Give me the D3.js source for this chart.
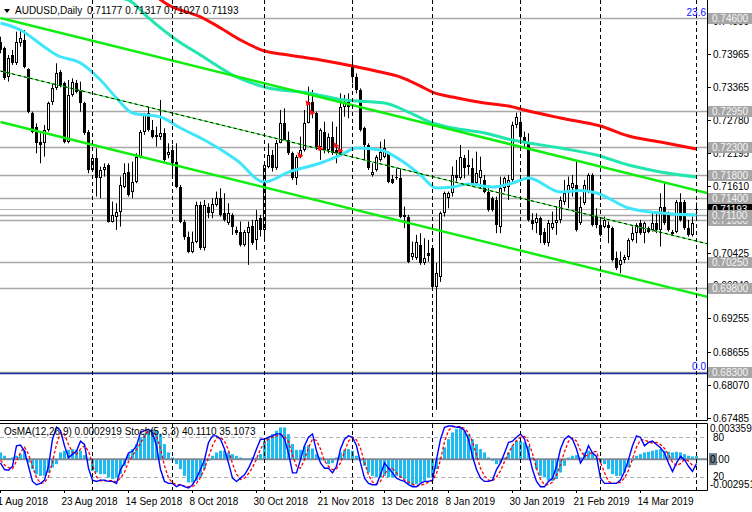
<!DOCTYPE html>
<html><head><meta charset="utf-8">
<script src="https://cdn.jsdelivr.net/npm/d3@7/dist/d3.min.js"></script>
<style>body{margin:0;background:#fff}svg{display:block}text{font-family:"Liberation Sans",Arial,sans-serif;font-size:10px}</style>
</head><body><svg id="c" width="752" height="512"></svg>
<script>
// ---------------- DATA ----------------
const symbolTitle = "AUDUSD,Daily";
const lastOHLC = ["0.71177", "0.71317", "0.71027", "0.71193"];
const oscTitle = "OsMA(12,26,9) 0.0002919  Stoch(5,3,3) 40.1110 35.1073";
const dateLabels = ["1 Aug 2018","23 Aug 2018","14 Sep 2018","8 Oct 2018","30 Oct 2018","21 Nov 2018","13 Dec 2018","8 Jan 2019","30 Jan 2019","21 Feb 2019","14 Mar 2019"];
const dateIdx = [0,16,32,48,64,80,96,112,128,144,160];
const separatorIdx = [23,43,66,88,108,130,150,174];
const priceTicks = [0.74550,0.73965,0.73365,0.72780,0.72195,0.71610,0.71025,0.70425,0.69840,0.69255,0.68655,0.68070,0.67485];
const levelPrices = [0.6830,0.6980,0.7025,0.7100,0.7110,0.7140,0.7180,0.7230,0.7295,0.7460];
const currentPrice = 0.71193;
const fibPrices = [0.7460, 0.6830];
const fibLabels = ["23.6", "0.0"];
const oscTicks = ["0.0033591","80","0.00","20","-0.002951"];

const open = [0.74179,0.74060,0.73556,0.73942,0.73793,0.74149,0.74208,0.73686,0.72904,0.72666,
0.72400,0.72370,0.72607,0.73111,0.73348,0.73645,0.73437,0.72400,0.73230,0.73437,
0.73319,0.73082,0.72578,0.71896,0.72103,0.71747,0.71896,0.71985,0.70977,0.71066,
0.71155,0.71600,0.71866,0.71511,0.71688,0.72133,0.72578,0.72904,0.72607,0.72518,
0.72489,0.72548,0.72163,0.72252,0.72044,0.71600,0.70977,0.70710,0.70443,0.70621,
0.71273,0.70503,0.71244,0.71125,0.71273,0.71392,0.71125,0.70947,0.71096,0.70829,
0.70799,0.70562,0.70770,0.70900,0.70651,0.71036,0.70829,0.71955,0.72163,0.71925,
0.72370,0.72726,0.72430,0.72192,0.71747,0.72133,0.72252,0.72726,0.73111,0.72904,
0.72311,0.72578,0.72252,0.72489,0.72252,0.72192,0.73022,0.73111,0.73764,0.73556,
0.73319,0.72637,0.72341,0.71807,0.71896,0.72074,0.72133,0.72175,0.71730,0.71747,
0.71747,0.71096,0.71066,0.70348,0.70330,0.70562,0.70242,0.70419,0.70508,0.69814,
0.69992,0.71125,0.71392,0.71481,0.71807,0.71747,0.72103,0.71955,0.71925,0.71659,
0.71747,0.71718,0.71511,0.71392,0.71362,0.70888,0.71570,0.71600,0.71718,0.72696,
0.72755,0.72489,0.72400,0.71007,0.70947,0.71036,0.70799,0.70592,0.70858,0.70947,
0.71007,0.71333,0.71481,0.71570,0.71629,0.70947,0.71303,0.71511,0.71807,0.71066,
0.70918,0.70888,0.70918,0.70858,0.70325,0.70206,0.70295,0.70354,0.70651,0.70770,
0.70947,0.70770,0.70858,0.70829,0.70947,0.70829,0.71244,0.71125,0.70758,0.70799,
0.71333,0.71333,0.70858,0.70740,0.71177];
const high = [0.74267,0.74090,0.73942,0.74031,0.74356,0.74386,0.74386,0.73704,0.72933,0.72726,
0.72548,0.72696,0.73111,0.73437,0.73793,0.73675,0.73467,0.73497,0.73526,0.73497,
0.73467,0.73111,0.72607,0.72133,0.72281,0.71955,0.72014,0.72014,0.71333,0.71303,
0.71777,0.72014,0.72014,0.72044,0.72192,0.72607,0.72904,0.73022,0.72785,0.72666,
0.73141,0.72637,0.72370,0.72341,0.72370,0.71629,0.71007,0.70799,0.70799,0.71333,
0.71333,0.71362,0.71303,0.71392,0.71511,0.71570,0.71481,0.71303,0.71125,0.70888,
0.70977,0.70829,0.70977,0.71007,0.71184,0.71096,0.72014,0.72370,0.72252,0.72430,
0.72963,0.72992,0.72578,0.72222,0.72163,0.72489,0.72963,0.73378,0.73319,0.72933,
0.72637,0.72755,0.72548,0.72755,0.72666,0.73259,0.73230,0.73259,0.73942,0.73615,
0.73348,0.72666,0.72370,0.72014,0.72163,0.72400,0.72441,0.72222,0.71807,0.71925,
0.71925,0.71244,0.71096,0.70621,0.70740,0.70770,0.70681,0.70651,0.70562,0.70242,
0.71155,0.71511,0.71511,0.71955,0.72074,0.72341,0.72163,0.72252,0.72103,0.72222,
0.72133,0.71807,0.71629,0.71422,0.71422,0.71777,0.71777,0.71807,0.72755,0.72916,
0.72844,0.72578,0.72548,0.71125,0.71125,0.71066,0.70858,0.71007,0.71155,0.71244,
0.71422,0.71718,0.71777,0.71807,0.72044,0.71422,0.71718,0.71836,0.71836,0.71214,
0.71036,0.71066,0.70977,0.70888,0.70443,0.70443,0.70384,0.70681,0.70888,0.70947,
0.71007,0.70977,0.70888,0.71125,0.71125,0.71481,0.71659,0.71155,0.70829,0.71362,
0.71481,0.71362,0.71007,0.71066,0.71317];
const low = [0.73971,0.73497,0.73467,0.73764,0.73764,0.74090,0.73704,0.72904,0.72548,0.72192,
0.72014,0.72133,0.72578,0.73052,0.73319,0.73366,0.72370,0.72370,0.73200,0.73259,
0.72933,0.72518,0.71836,0.71866,0.71422,0.71392,0.71777,0.70959,0.70959,0.70829,
0.70888,0.71570,0.71422,0.71392,0.71659,0.72103,0.72518,0.72578,0.72459,0.72311,
0.72430,0.72044,0.72103,0.71777,0.71570,0.70947,0.70651,0.70414,0.70414,0.70592,
0.70473,0.70461,0.71036,0.71036,0.71244,0.71066,0.70977,0.70918,0.70740,0.70740,
0.70532,0.70532,0.70206,0.70562,0.70473,0.70710,0.70681,0.71925,0.71866,0.71896,
0.72370,0.72430,0.72163,0.71718,0.71629,0.72103,0.72222,0.72726,0.72815,0.72252,
0.72074,0.72192,0.72192,0.72163,0.72014,0.72163,0.72844,0.72815,0.73437,0.73259,
0.72578,0.72074,0.71896,0.71777,0.71866,0.72044,0.72103,0.71659,0.71647,0.71718,
0.71036,0.70858,0.70236,0.70295,0.70295,0.70206,0.70206,0.70265,0.69761,0.67626,
0.69903,0.71066,0.71214,0.71422,0.71688,0.71718,0.71747,0.71807,0.71600,0.71629,
0.71570,0.71481,0.71155,0.71155,0.70770,0.70770,0.71511,0.71362,0.71688,0.72637,
0.72370,0.72281,0.70977,0.70829,0.70770,0.70592,0.70562,0.70532,0.70829,0.70740,
0.70947,0.71273,0.71214,0.71422,0.70799,0.70918,0.71273,0.71481,0.70888,0.70858,
0.70710,0.70858,0.70592,0.70265,0.70117,0.70057,0.70236,0.70295,0.70621,0.70592,
0.70740,0.70592,0.70770,0.70799,0.70770,0.70532,0.70918,0.70799,0.70740,0.70770,
0.70977,0.70829,0.70710,0.70710,0.71027];
const close = [0.74031,0.73526,0.73882,0.73793,0.74179,0.74238,0.73734,0.72933,0.72578,0.72370,
0.72341,0.72607,0.73082,0.73348,0.73627,0.73408,0.72400,0.73230,0.73467,0.73289,
0.73082,0.72548,0.71896,0.72103,0.71747,0.71896,0.71955,0.70977,0.71096,0.71155,
0.71629,0.71836,0.71451,0.71688,0.72133,0.72578,0.72874,0.72607,0.72489,0.72477,
0.72548,0.72074,0.72222,0.72014,0.71600,0.70977,0.70710,0.70443,0.70621,0.71273,
0.70503,0.71273,0.71125,0.71291,0.71392,0.71096,0.71007,0.71137,0.70888,0.70770,
0.70562,0.70799,0.70888,0.70592,0.71007,0.70829,0.71985,0.72163,0.71925,0.72370,
0.72726,0.72430,0.72192,0.71747,0.72133,0.72252,0.72726,0.73111,0.72904,0.72311,
0.72607,0.72252,0.72489,0.72192,0.72192,0.73022,0.73111,0.73022,0.73556,0.73319,
0.72607,0.72341,0.71925,0.71866,0.72133,0.72222,0.72281,0.71688,0.71670,0.71777,
0.71066,0.71066,0.70265,0.70419,0.70615,0.70242,0.70330,0.70366,0.69814,0.70063,
0.71125,0.71481,0.71481,0.71807,0.71747,0.72133,0.71925,0.71985,0.71659,0.71836,
0.71896,0.71511,0.71184,0.71184,0.70918,0.71570,0.71747,0.71718,0.72696,0.72844,
0.72489,0.72400,0.71007,0.70935,0.71036,0.70740,0.70592,0.70947,0.70947,0.71007,
0.71362,0.71481,0.71629,0.71659,0.70829,0.71244,0.71629,0.71807,0.70918,0.70918,
0.70740,0.71007,0.70858,0.70295,0.70147,0.70295,0.70354,0.70651,0.70770,0.70918,
0.70770,0.70947,0.70799,0.70947,0.70829,0.71244,0.70947,0.70829,0.70799,0.71333,
0.71007,0.70858,0.70740,0.70947,0.71193];

// moving averages: [bar index, price]
const maRed = [[38,0.75027],[42,0.74831],[50,0.74618],[55,0.74422],[60,0.74208],[66,0.74012],[72,0.73941],[80,0.73852],[88,0.73745],[95,0.73638],[100,0.73549],[105,0.73389],[108,0.73282],[113,0.73193],[121,0.73087],[127,0.73033],[132,0.72944],[140,0.72820],[150,0.72677],[157,0.72499],[165,0.72392],[174,0.72268]];
const maTeal = [[28,0.74973],[32,0.74920],[37,0.74600],[44,0.74208],[50,0.73941],[59,0.73550],[66,0.73371],[77,0.73265],[86,0.73140],[96,0.73087],[102,0.72926],[108,0.72731],[113,0.72642],[121,0.72553],[128,0.72428],[140,0.72286],[149,0.72161],[157,0.71983],[165,0.71859],[174,0.71770]];
const maCyan = [[0,0.74511],[5,0.74386],[11,0.74083],[14,0.73941],[20,0.73799],[25,0.73496],[29,0.73176],[33,0.72909],[40,0.72838],[45,0.72642],[51,0.72428],[59,0.72072],[66,0.71680],[72,0.71858],[80,0.72019],[85,0.72161],[89,0.72286],[95,0.72250],[100,0.72072],[105,0.71805],[109,0.71574],[113,0.71592],[117,0.71645],[123,0.71592],[128,0.71663],[132,0.71752],[140,0.71503],[145,0.71530],[149,0.71485],[157,0.71218],[165,0.71129],[174,0.71093]];
// channel lines: [bar index, price] endpoints
const channelUpper = [[0,0.74600],[177,0.71480]];
const channelMid = [[0,0.73656],[177,0.70577]];
const channelLower = [[0,0.72749],[177,0.69634]];
const arrowMarks = [[75,0.72161],[77,0.73087],[78,0.72926],[80,0.72286],[84,0.72340],[85,0.72250]];

const osma = [0.00064,0.00032,0.00010,0.00016,0.00032,0.00048,0.00080,-0.00032,-0.00096,-0.00144,
-0.00160,-0.00160,-0.00128,-0.00080,-0.00048,0.00064,0.00080,0.00089,0.00096,0.00089,
0.00080,0.00038,-0.00016,-0.00112,-0.00128,-0.00144,-0.00144,-0.00175,-0.00191,-0.00175,
-0.00144,-0.00064,0.00048,0.00096,0.00144,0.00207,0.00239,0.00271,0.00287,0.00271,
0.00239,0.00144,0.00064,0.00016,-0.00048,-0.00096,-0.00160,-0.00223,-0.00223,-0.00207,
-0.00175,-0.00096,-0.00016,0.00032,0.00064,0.00080,0.00080,0.00064,0.00048,0.00032,
0.00016,0.00006,0.00006,0.00016,0.00016,0.00048,0.00175,0.00207,0.00239,0.00271,
0.00303,0.00303,0.00239,0.00144,0.00089,0.00089,0.00121,0.00134,0.00102,0.00048,
0.00016,-0.00016,-0.00048,-0.00038,0.00016,0.00064,0.00089,0.00096,0.00080,0.00032,
-0.00016,-0.00064,-0.00128,-0.00160,-0.00175,-0.00175,-0.00160,-0.00175,-0.00175,-0.00160,
-0.00175,-0.00191,-0.00239,-0.00255,-0.00239,-0.00223,-0.00207,-0.00175,-0.00175,-0.00096,
0.00016,0.00112,0.00191,0.00255,0.00287,0.00303,0.00271,0.00239,0.00191,0.00144,
0.00096,0.00064,0.00016,-0.00016,-0.00048,-0.00032,0.00016,0.00064,0.00128,0.00175,
0.00175,0.00160,0.00128,0.00016,-0.00096,-0.00160,-0.00175,-0.00207,-0.00207,-0.00191,
-0.00128,-0.00064,0.00016,0.00032,0.00038,0.00016,0.00064,0.00080,0.00064,0.00016,
-0.00032,-0.00048,-0.00096,-0.00144,-0.00160,-0.00160,-0.00128,-0.00080,-0.00016,0.00032,
0.00048,0.00064,0.00070,0.00080,0.00089,0.00096,0.00080,0.00070,0.00064,0.00070,
0.00064,0.00048,0.00032,0.00026,0.00029];
const stochMain = [41,31,30,36,67,68,59,36,13,8,
10,15,36,77,95,90,67,49,54,59,
74,69,33,15,13,15,15,13,13,10,
31,41,56,59,67,87,90,92,87,67,
31,13,10,10,5,8,5,3,8,18,
31,46,72,82,82,77,62,41,18,13,
18,23,33,46,62,77,77,80,82,85,
85,77,56,26,26,46,67,80,85,59,
41,33,33,26,36,62,77,82,80,67,
41,18,10,8,8,23,41,33,26,18,
15,13,8,5,5,10,13,13,15,46,
77,95,97,97,95,95,90,77,51,31,
18,13,13,15,31,41,56,72,74,80,
85,77,56,31,13,5,5,13,18,36,
62,77,82,77,62,41,51,67,56,51,
18,10,10,10,10,15,28,46,67,82,
80,67,72,74,69,64,56,41,28,41,
51,46,36,28,40.1];
const stochSignal = [45,38,34,32,44,57,65,54,36,19,
10,11,20,43,69,87,84,69,57,54,
62,67,59,39,20,14,14,14,14,12,
18,27,43,52,61,71,81,90,90,82,
62,37,18,11,8,8,6,5,5,10,
19,32,50,67,79,80,74,60,40,24,
16,18,25,34,47,62,72,78,80,82,
84,82,73,53,36,33,46,64,77,75,
62,44,36,31,32,41,58,74,80,76,
63,42,23,12,9,13,24,32,33,26,
20,15,12,9,6,7,9,12,14,25,
46,73,90,96,96,96,93,87,73,53,
33,21,15,14,20,29,43,56,67,75,
80,81,73,55,33,16,8,8,12,22,
39,58,74,79,74,60,51,53,58,58,
42,26,13,10,10,12,18,30,47,65,
76,76,73,71,72,69,63,54,42,37,
40,46,44,37,35.1];

// ---------------- LAYOUT ----------------
const W = 752, H = 512;
const plotR = 707, mainB = 420, oscT = 424, oscB = 490;
const svg = d3.select("#c");
svg.append("rect").attr("width", W).attr("height", H).attr("fill", "#fff");

const x = d3.scaleLinear().domain([0, 174]).range([0.5, 696.5]);
const y = d3.scaleLinear().domain([0.67446, 0.7492]).range([mainB, 0]);
const yo = d3.scaleLinear().domain([-0.002951, 0.0033591]).range([oscB, oscT]);
const ys = d3.scaleLinear().domain([0, 100]).range([oscB, oscT]);
const crisp = v => Math.round(v) + 0.5;

const defs = svg.append("defs");
defs.append("clipPath").attr("id", "cm").append("rect").attr("x", 0).attr("y", 0).attr("width", plotR).attr("height", mainB);
defs.append("clipPath").attr("id", "co").append("rect").attr("x", 0).attr("y", oscT).attr("width", plotR).attr("height", oscB - oscT);

const gm = svg.append("g").attr("clip-path", "url(#cm)");
const go = svg.append("g").attr("clip-path", "url(#co)");

// period separators
separatorIdx.forEach(i => {
  [[0, mainB], [oscT, oscB]].forEach(([a, b]) => {
    svg.append("line").attr("x1", x(i)).attr("x2", x(i)).attr("y1", a).attr("y2", b)
      .attr("stroke", "#000").attr("stroke-width", 1).attr("stroke-dasharray", "4,3");
  });
});

// horizontal levels
levelPrices.forEach(p => {
  gm.append("line").attr("x1", 0).attr("x2", plotR).attr("y1", crisp(y(p))).attr("y2", crisp(y(p)))
    .attr("stroke", "#a8a8a8").attr("stroke-width", 1.6);
});
gm.append("line").attr("x1", 0).attr("x2", plotR).attr("y1", crisp(y(currentPrice))).attr("y2", crisp(y(currentPrice)))
  .attr("stroke", "#b4b4b4").attr("stroke-width", 1);
// fib line 0.0 (blue)
gm.append("line").attr("x1", 0).attr("x2", plotR).attr("y1", crisp(y(fibPrices[1])) + 1).attr("y2", crisp(y(fibPrices[1])) + 1)
  .attr("stroke", "#1a2a9a").attr("stroke-width", 1.3);

// candles
const idx = d3.range(open.length);
const cg = gm.append("g");
idx.forEach(i => {
  const cx = x(i);
  cg.append("line").attr("x1", cx).attr("x2", cx).attr("y1", y(high[i])).attr("y2", y(low[i]))
    .attr("stroke", "#000").attr("stroke-width", 1);
  const top = Math.round(y(Math.max(open[i], close[i])));
  const bot = Math.round(y(Math.min(open[i], close[i])));
  const bull = close[i] >= open[i];
  if (bot - top < 2) {
    cg.append("rect").attr("x", cx - 1.5).attr("y", top).attr("width", 3).attr("height", Math.max(1, bot - top)).attr("fill", "#000");
  } else if (bull) {
    cg.append("rect").attr("x", cx - 1).attr("y", top + 0.5).attr("width", 2).attr("height", bot - top - 1)
      .attr("fill", "#fff").attr("stroke", "#000").attr("stroke-width", 1);
  } else {
    cg.append("rect").attr("x", cx - 1.5).attr("y", top).attr("width", 3).attr("height", bot - top).attr("fill", "#000");
  }
});

// moving averages
const lineGen = d3.line().x(d => x(d[0])).y(d => y(d[1])).curve(d3.curveMonotoneX);
gm.append("path").attr("d", lineGen(maCyan)).attr("fill", "none").attr("stroke", "#3fe6fa").attr("stroke-width", 3);
gm.append("path").attr("d", lineGen(maTeal)).attr("fill", "none").attr("stroke", "#22e6b0").attr("stroke-width", 3);
gm.append("path").attr("d", lineGen(maRed)).attr("fill", "none").attr("stroke", "#ff0a0a").attr("stroke-width", 3);

// channel lines
const straight = d3.line().x(d => x(d[0])).y(d => y(d[1]));
gm.append("path").attr("d", straight(channelUpper)).attr("stroke", "#10ee10").attr("stroke-width", 2.5).attr("fill", "none");
gm.append("path").attr("d", straight(channelLower)).attr("stroke", "#10ee10").attr("stroke-width", 2.5).attr("fill", "none");
gm.append("path").attr("d", straight(channelMid)).attr("stroke", "#10ee10").attr("stroke-width", 1).attr("fill", "none");
gm.append("path").attr("d", straight(channelMid)).attr("stroke", "#000").attr("stroke-width", 1).attr("stroke-dasharray", "3,3").attr("fill", "none");

// arrows
arrowMarks.forEach(([i, p]) => {
  const cx = x(i), cy = y(p);
  gm.append("path").attr("d", `M${cx - 3},${cy - 3}L${cx + 3},${cy + 1}L${cx - 2},${cy + 3}Z`).attr("fill", "#ff1010");
});

// fib labels
svg.append("text").attr("x", 706).attr("y", y(fibPrices[0]) - 2).attr("text-anchor", "end").attr("fill", "#1010ff").text(fibLabels[0]);
svg.append("text").attr("x", 706).attr("y", y(fibPrices[1]) - 2).attr("text-anchor", "end").attr("fill", "#1010ff").text(fibLabels[1]);

// borders
svg.append("line").attr("x1", plotR + 0.5).attr("x2", plotR + 0.5).attr("y1", 0).attr("y2", mainB + 0.5).attr("stroke", "#000");
svg.append("line").attr("x1", 0).attr("x2", plotR + 0.5).attr("y1", mainB + 0.5).attr("y2", mainB + 0.5).attr("stroke", "#000");
svg.append("line").attr("x1", 0).attr("x2", plotR + 0.5).attr("y1", oscT - 0.5).attr("y2", oscT - 0.5).attr("stroke", "#000");
svg.append("line").attr("x1", 0).attr("x2", plotR + 0.5).attr("y1", oscB + 0.5).attr("y2", oscB + 0.5).attr("stroke", "#000");
svg.append("line").attr("x1", plotR + 0.5).attr("x2", plotR + 0.5).attr("y1", oscT - 0.5).attr("y2", oscB + 0.5).attr("stroke", "#000");

// price axis ticks
priceTicks.forEach(p => {
  const yy = Math.round(y(p)) + 0.5;
  svg.append("line").attr("x1", plotR).attr("x2", plotR + 4).attr("y1", yy).attr("y2", yy).attr("stroke", "#000");
  svg.append("text").attr("x", 713).attr("y", yy + 3.5).attr("fill", "#000").text(p.toFixed(5));
});
// current price label (black)
{
  const yy = Math.round(y(currentPrice));
  svg.append("rect").attr("x", 708).attr("y", yy - 5).attr("width", 44).attr("height", 11).attr("fill", "#000");
  svg.append("text").attr("x", 712).attr("y", yy + 4).attr("fill", "#fff").text(currentPrice.toFixed(5));
}
// level labels (grey boxes)
levelPrices.forEach(p => {
  const yy = Math.round(y(p));
  svg.append("rect").attr("x", 708).attr("y", yy - 5).attr("width", 44).attr("height", 11).attr("fill", "#a6a6a6");
  svg.append("text").attr("x", 712).attr("y", yy + 4).attr("fill", "#f4f4f4").text(p.toFixed(5));
});

// title
svg.append("path").attr("d", "M4,9L10,9L7,13Z").attr("fill", "#000");
svg.append("text").attr("x", 15).attr("y", 14).attr("fill", "#000").text(symbolTitle);
svg.append("text").attr("x", 87).attr("y", 14).attr("fill", "#000").text(lastOHLC.join(" "));

// ---------------- OSCILLATOR ----------------
go.append("line").attr("x1", 0).attr("x2", plotR).attr("y1", crisp(ys(80))).attr("y2", crisp(ys(80))).attr("stroke", "#b0b0b0").attr("stroke-dasharray", "4,3");
go.append("line").attr("x1", 0).attr("x2", plotR).attr("y1", crisp(ys(20))).attr("y2", crisp(ys(20))).attr("stroke", "#b0b0b0").attr("stroke-dasharray", "4,3");
idx.forEach(i => {
  const y0 = yo(0), y1 = yo(osma[i]);
  go.append("rect").attr("x", x(i) - 1.5).attr("y", Math.min(y0, y1)).attr("width", 3).attr("height", Math.abs(y1 - y0))
    .attr("fill", "#1cbcf0");
});
go.append("line").attr("x1", 0).attr("x2", plotR).attr("y1", yo(0)).attr("y2", yo(0)).attr("stroke", "#7a8a9a").attr("stroke-width", 2);
const sLine = d3.line().x((d, i) => x(i)).y(d => ys(d));
go.append("path").attr("d", sLine(stochSignal)).attr("fill", "none").attr("stroke", "#ff0000").attr("stroke-width", 1.3).attr("stroke-dasharray", "3,2");
go.append("path").attr("d", sLine(stochMain)).attr("fill", "none").attr("stroke", "#0000ff").attr("stroke-width", 1.4);

svg.append("text").attr("x", 4).attr("y", 435).attr("fill", "#000").text(oscTitle);

// osc axis
const oscTickY = [oscT + 4, ys(80), yo(0), ys(20), oscB - 6];
oscTicks.forEach((t, k) => {
  const yy = oscTickY[k];
  if (t === "0.00") {
    svg.append("rect").attr("x", 709).attr("y", yy - 6).attr("width", 8).attr("height", 12).attr("fill", "#6e7e8e");
  }
  svg.append("text").attr("x", (t === "80" || t === "20") ? 713 : 710).attr("y", yy + 3.5).attr("fill", "#000").text(t);
});

// date axis
dateIdx.forEach((i, k) => {
  svg.append("line").attr("x1", x(i)).attr("x2", x(i)).attr("y1", oscB).attr("y2", oscB + 3).attr("stroke", "#000");
  svg.append("text").attr("x", x(i) - 3).attr("y", 505).attr("fill", "#000").text(dateLabels[k]);
});
</script></body></html>
